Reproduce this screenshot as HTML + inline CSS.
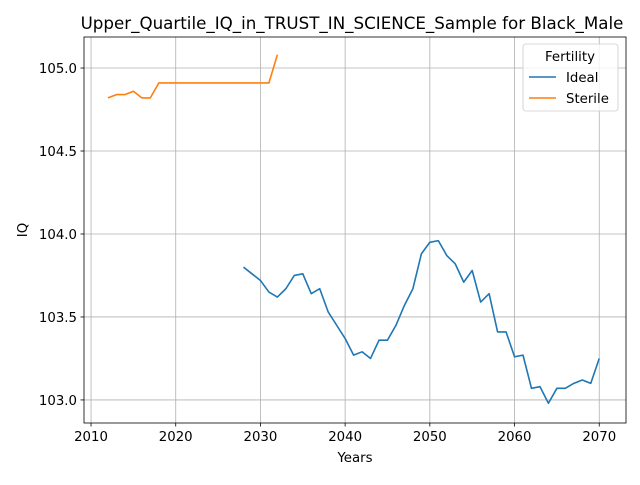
<!DOCTYPE html>
<html><head><meta charset="utf-8"><style>
body{margin:0;background:#fff}
text{font-family:"DejaVu Sans","Liberation Sans",sans-serif}
</style></head><body>
<svg id="chart" width="640" height="480"></svg>
<script>
const idealYears=[2028,2029,2030,2031,2032,2033,2034,2035,2036,2037,2038,2039,2040,2041,2042,2043,2044,2045,2046,2047,2048,2049,2050,2051,2052,2053,2054,2055,2056,2057,2058,2059,2060,2061,2062,2063,2064,2065,2066,2067,2068,2069,2070];
const idealValues=[103.80,103.76,103.72,103.65,103.62,103.67,103.75,103.76,103.64,103.67,103.53,103.45,103.37,103.27,103.29,103.25,103.36,103.36,103.45,103.57,103.67,103.88,103.95,103.96,103.87,103.82,103.71,103.78,103.59,103.64,103.41,103.41,103.26,103.27,103.07,103.08,102.98,103.07,103.07,103.10,103.12,103.10,103.25];
const sterileYears=[2012,2013,2014,2015,2016,2017,2018,2019,2020,2021,2022,2023,2024,2025,2026,2027,2028,2029,2030,2031,2032];
const sterileValues=[104.82,104.84,104.84,104.86,104.82,104.82,104.91,104.91,104.91,104.91,104.91,104.91,104.91,104.91,104.91,104.91,104.91,104.91,104.91,104.91,105.08];
const xTicks=[2010,2020,2030,2040,2050,2060,2070];
const yTicks=[103.0,103.5,104.0,104.5,105.0];
const L=84,R=626,T=37,B=423,X0=2009.17,X1=2073.16,Y0=102.861,Y1=105.187;
const sx=v=>L+(v-X0)/(X1-X0)*(R-L);
const sy=v=>B-(v-Y0)/(Y1-Y0)*(B-T);
const svg=document.getElementById('chart');
const NS='http://www.w3.org/2000/svg';
function mk(tag,attrs,txt){const e=document.createElementNS(NS,tag);for(const k in attrs)e.setAttribute(k,attrs[k]);if(txt!==undefined)e.textContent=txt;svg.appendChild(e);return e;}
xTicks.forEach(t=>{const x=sx(t);
const g=mk('line',{x1:x,x2:x,y1:T,y2:B,stroke:'#b0b0b0','stroke-width':0.8});


mk('line',{x1:x,x2:x,y1:B,y2:B+3.5,stroke:'#000','stroke-width':0.8});
const l=mk('text',{x:x,y:B+18,'text-anchor':'middle','font-size':13.3},String(t));

});
yTicks.forEach(t=>{const y=sy(t);
const g=mk('line',{x1:L,x2:R,y1:y,y2:y,stroke:'#b0b0b0','stroke-width':0.8});


mk('line',{x1:L-3.5,x2:L,y1:y,y2:y,stroke:'#000','stroke-width':0.8});
const l=mk('text',{x:L-7,y:y+5,'text-anchor':'end','font-size':13.3},t.toFixed(1));

});
function series(xs,ys,color,name){const p=mk('polyline',{points:xs.map((x,i)=>sx(x)+','+sy(ys[i])).join(' '),fill:'none',stroke:color,'stroke-width':1.6,'stroke-linejoin':'round'});

}
series(idealYears,idealValues,'#1f77b4','ideal-line');
series(sterileYears,sterileValues,'#ff7f0e','sterile-line');
const fr=mk('rect',{x:L,y:T,width:R-L,height:B-T,fill:'none',stroke:'#000','stroke-width':0.8});


const ti=mk('text',{x:(L+R)/2-3,y:29,'text-anchor':'middle','font-size':16.7},'Upper_Quartile_IQ_in_TRUST_IN_SCIENCE_Sample for Black_Male');


const xt=mk('text',{x:(L+R)/2,y:462,'text-anchor':'middle','font-size':13.3},'Years');


const yt=mk('text',{x:27,y:(T+B)/2,'text-anchor':'middle','font-size':13.3,transform:'rotate(-90 27 '+((T+B)/2)+')'},'IQ');


const lg=mk('rect',{x:523,y:44,width:95,height:67,rx:3,fill:'#fff','fill-opacity':0.8,stroke:'#ccc','stroke-width':0.8});


const lt=mk('text',{x:570,y:61,'text-anchor':'middle','font-size':13.3},'Fertility');


[['Ideal','#1f77b4',82],['Sterile','#ff7f0e',103]].forEach(([n,c,y])=>{
const s=mk('line',{x1:529,x2:556,y1:y-5,y2:y-5,stroke:c,'stroke-width':1.6});


const t=mk('text',{x:566,y:y,'font-size':13.3},n);

});
</script>
</body></html>
